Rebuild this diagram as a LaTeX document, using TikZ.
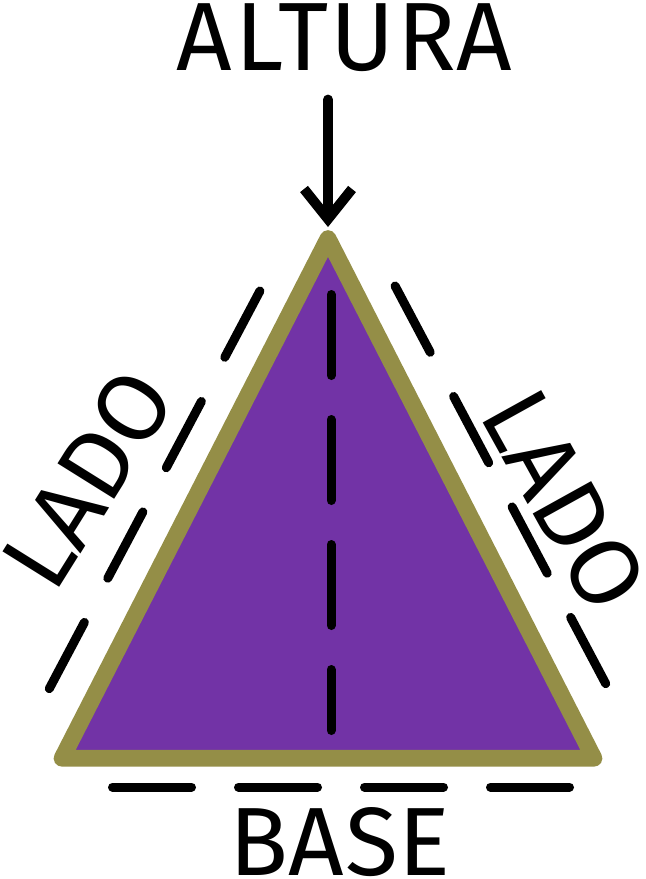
\documentclass[tikz,border=0pt]{standalone}
\usepackage{fontspec}
\setmainfont{Fira Sans}
\usetikzlibrary{arrows.meta,positioning}
\definecolor{olivebar}{RGB}{148,142,71}
\definecolor{violetfill}{RGB}{114,51,166}

\begin{document}
\begin{tikzpicture}[
  x=0.5pt, y=-0.5pt,
  font=\fontsize{48.5pt}{58pt}\selectfont,
  word/.style={inner sep=0pt, text=black},
  trianglebody/.style={draw=olivebar, fill=violetfill, line width=8.35pt, line join=round},
  dashguide/.style={draw=black, line width=4.5pt, line cap=round},
  pointer/.style={draw=black, line width=5pt, line cap=round,
    -{Straight Barb[length=15pt, width=24pt]}}
]
  \useasboundingbox (0,0) rectangle (645,879);

  \coordinate (apex) at (328,238.5);
  \coordinate (left corner) at (62,758.3);
  \coordinate (right corner) at (594,758.3);

  \node[word, anchor=base] (altura) at (344.5,70)
    {{\addfontfeatures{LetterSpace=2.8}ALTUR}A};
  \node[word, anchor=base] (base) at (340,875)
    {{\addfontfeatures{LetterSpace=1.2}BAS}E};
  \node[word, anchor=base west, rotate=58] (lado left) at (54.6,595.9) {LADO};
  \node[word, anchor=base west, rotate=-61] (lado right) at (478.3,413.9) {LADO};

  \draw[trianglebody] (apex) -- (left corner) -- (right corner) -- cycle;

  \draw[dashguide, dash pattern=on 40.5pt off 22pt] (331,294.5) -- (331,730.5);
  \draw[dashguide, dash pattern=on 37.5pt off 25pt] (259.9,291) -- (49.1,689);
  \draw[dashguide, dash pattern=on 37.5pt off 25pt] (395.1,286) -- (605.9,684);
  \draw[dashguide, dash pattern=on 39.5pt off 23.5pt] (112.5,787) -- (569.5,787);

  \draw[pointer, shorten <=14pt, shorten >=5.75pt] (altura.south -| apex) -- (apex);
\end{tikzpicture}
\end{document}
